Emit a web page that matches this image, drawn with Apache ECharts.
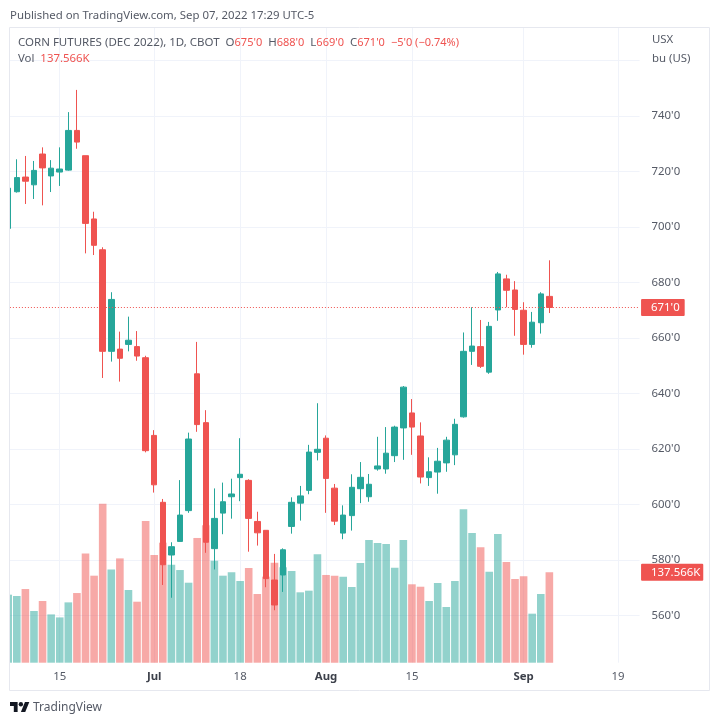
<!DOCTYPE html>
<html>
<head>
<meta charset="utf-8">
<title>CORN FUTURES (DEC 2022)</title>
<script src="https://cdn.jsdelivr.net/npm/echarts@6/dist/echarts.min.js"></script>
<style>
  html, body { margin: 0; padding: 0; background: #fff; }
  #chart { width: 720px; height: 725px; }
</style>
</head>
<body>
<div id="chart"></div>
<script>
var categories = [
  'Jun 7', 'Jun 8', 'Jun 9', 'Jun 10', 'Jun 13', 'Jun 14', 'Jun 15', 'Jun 16', 'Jun 17', 'Jun 21',
  'Jun 22', 'Jun 23', 'Jun 24', 'Jun 27', 'Jun 28', 'Jun 29', 'Jun 30', 'Jul 1', 'Jul 5', 'Jul 6',
  'Jul 7', 'Jul 8', 'Jul 11', 'Jul 12', 'Jul 13', 'Jul 14', 'Jul 15', 'Jul 18', 'Jul 19', 'Jul 20',
  'Jul 21', 'Jul 22', 'Jul 25', 'Jul 26', 'Jul 27', 'Jul 28', 'Jul 29', 'Aug 1', 'Aug 2', 'Aug 3',
  'Aug 4', 'Aug 5', 'Aug 8', 'Aug 9', 'Aug 10', 'Aug 11', 'Aug 12', 'Aug 15', 'Aug 16', 'Aug 17',
  'Aug 18', 'Aug 19', 'Aug 22', 'Aug 23', 'Aug 24', 'Aug 25', 'Aug 26', 'Aug 29', 'Aug 30', 'Aug 31',
  'Sep 1', 'Sep 2', 'Sep 6', 'Sep 7', 'Sep 8', 'Sep 9', 'Sep 12', 'Sep 13', 'Sep 14', 'Sep 15',
  'Sep 16', 'Sep 19', 'Sep 20', 'Sep 21'
];

// open, close, low, high
var candles = [
  [699.5, 714, 698, 716], [712.7, 717.8, 712.4, 724.4], [718, 716.5, 708.3, 725.6], [715.2, 720.4, 710.1, 723.8],
  [726.3, 721.3, 707.8, 728.7], [718.4, 721.2, 712.6, 724.1], [719.8, 720.9, 714.8, 728.7], [720.5, 734.8, 720.3, 741.4],
  [734.8, 730.6, 728.2, 749.4], [725.7, 701.3, 690.5, 725.7], [702.9, 693.4, 689.9, 705.5], [691.8, 655.2, 645.6, 692.7],
  [655.2, 673.9, 651.5, 676.5], [656, 652.7, 644.3, 662.3], [657.7, 659.2, 655.2, 667.7], [656.9, 653.5, 651.8, 662.5],
  [652.9, 619.4, 618.8, 653.6], [624.9, 607.1, 604.3, 626.8], [600.8, 578.3, 571, 602], [581.8, 584.8, 566.4, 586.4],
  [586.7, 596.2, 586.7, 608.8], [597.8, 623.6, 597, 625.9], [647.1, 628.8, 626.2, 658.6], [629.5, 586.4, 582.6, 634],
  [584.1, 595, 576.6, 605.8], [596.9, 601, 589.3, 607.9], [602.8, 603.8, 594.9, 609.3], [609.7, 610.9, 601.2, 623.9],
  [608.7, 595, 583, 609.1], [593.9, 589.8, 585.2, 597.4], [590.7, 573.3, 570.2, 590.7], [572.8, 563.8, 561.9, 582.2],
  [574.6, 583.7, 568.5, 584.2], [592.1, 600.8, 589.5, 602.6], [600.5, 603.1, 594.2, 606.7], [605.1, 618.9, 603.7, 621.5],
  [618.8, 619.9, 615.9, 636.5], [623.9, 609.4, 597, 624.9], [605.9, 594, 592.6, 607.4], [589.7, 596.2, 587.5, 599.7],
  [596, 606.2, 590.6, 610.9], [605.7, 609.8, 600.5, 615.3], [602.8, 607.3, 601, 611], [612.8, 613.9, 612.2, 624.4],
  [612.8, 618.5, 611.1, 627.9], [617.6, 627.9, 615.3, 628.4], [627.6, 642.3, 616.1, 642.7], [633, 627.9, 617.9, 638],
  [624.7, 609.9, 607.6, 629.6], [609.7, 611.8, 606.7, 617], [611.7, 615.6, 603.9, 620.4], [615, 623.2, 611.8, 624.4],
  [617.9, 628.9, 614.2, 630.9], [631.6, 655.2, 631.3, 662], [655.2, 657.1, 650.3, 671.1], [656.9, 649.8, 649.2, 666.5],
  [647.7, 664.2, 647.1, 665.8], [670.1, 683.1, 666.2, 683.8], [681.3, 677.2, 671.1, 682.8], [677.3, 670.3, 660.8, 680.5],
  [670, 657.7, 654, 672.9], [657.7, 665.7, 656.5, 669.4], [665.5, 675.9, 661.6, 676.5], [675, 671, 669, 688]
];

// thousands of bushels
var volumes = [
  103.5, 101.5, 112.1, 78.7, 93.9, 73.5, 68.9, 91.8, 106, 166.3,
  132.4, 242, 142, 158.7, 110.6, 92.8, 215.6, 163.9, 182.6, 149.1,
  141, 121.7, 189.8, 209, 155.2, 132.4, 137.6, 124.3, 144.1, 104.5,
  130.9, 152.2, 145.2, 139.5, 107.1, 109.6, 165, 133.5, 132.4, 130.9,
  115.2, 151.7, 186.7, 182.1, 180.6, 144.6, 186.7, 119.3, 115.6, 93.9,
  121.3, 84.8, 124.3, 233.4, 197.4, 175.6, 138.5, 195.8, 153.2, 127.4,
  131.5, 74.6, 104.5, 137.566
];

var tickDates = ['Jun 15', 'Jul 1', 'Jul 18', 'Aug 1', 'Aug 15', 'Sep 1', 'Sep 19'];
var tickNames = ['15', 'Jul', '18', 'Aug', '15', 'Sep', '19'];
var boldTicks = ['Jul', 'Aug', 'Sep'];
var priceGrid = [560, 580, 600, 620, 640, 660, 680, 700, 720, 740, 760];
var priceLabels = [560, 580, 600, 620, 640, 660, 680, 700, 720, 740];

var upColor = '#26a69a';
var downColor = '#ef5350';
var textColor = '#555a66';
var fontName = '"Noto Sans", sans-serif';

var lastPrice = 671;
var lastVolume = 137.566;

var isTick = function (index, value) {
  return tickDates.indexOf(categories[index]) >= 0;
};

var frameLine = function (x1, y1, x2, y2) {
  return {
    type: 'line', z: 101, silent: true,
    shape: {x1: x1, y1: y1, x2: x2, y2: y2},
    style: {stroke: '#e6e8ef', lineWidth: 1}
  };
};

var chart = echarts.init(document.getElementById('chart'));

var option = {
  animation: false,
  backgroundColor: '#fff',
  textStyle: {fontFamily: fontName},
  title: [
    {
      left: 10, top: 10, padding: 0,
      text: 'Published on TradingView.com, Sep 07, 2022 17:29 UTC-5',
      textStyle: {color: textColor, fontSize: 11.4, fontWeight: 'normal', fontFamily: fontName}
    },
    {
      left: 18, top: 37, padding: 0, z: 102,
      text: "CORN FUTURES (DEC 2022), 1D, CBOT  O{r|675'0}  H{r|688'0}  L{r|669'0}  C{r|671'0}  {r|\u22125'0 (\u22120.74%)}",
      textStyle: {
        color: textColor, fontSize: 11.5, fontWeight: 'normal', fontFamily: fontName,
        rich: {r: {color: downColor, fontSize: 11, fontFamily: fontName}}
      }
    },
    {
      left: 18, top: 53, padding: 0, z: 102,
      text: 'Vol  {r|137.566K}',
      textStyle: {
        color: textColor, fontSize: 11.4, fontWeight: 'normal', fontFamily: fontName,
        rich: {r: {color: downColor, fontSize: 11.4, fontFamily: fontName}}
      }
    },
    {
      left: 652, top: 34, padding: 0, z: 102,
      text: 'USX',
      textStyle: {color: textColor, fontSize: 11.4, fontWeight: 'normal', fontFamily: fontName}
    },
    {
      left: 652, top: 53, padding: 0, z: 102,
      text: 'bu (US)',
      textStyle: {color: textColor, fontSize: 11.4, fontWeight: 'normal', fontFamily: fontName}
    },
    {
      left: 33, top: 702, padding: 0,
      text: 'TradingView',
      textStyle: {color: textColor, fontSize: 12, fontWeight: 'normal', fontFamily: fontName}
    }
  ],
  grid: {left: 3.9, top: 27, width: 635.66, height: 635.7},
  xAxis: {
    type: 'category',
    data: categories,
    boundaryGap: true,
    axisLine: {show: false},
    axisTick: {show: false, alignWithLabel: true, interval: isTick},
    splitLine: {show: true, alignWithLabel: true, interval: isTick, lineStyle: {color: '#f0f3fa', width: 1}},
    axisLabel: {
      interval: isTick,
      margin: 9,
      fontSize: 11.4,
      fontFamily: fontName,
      color: textColor,
      formatter: function (value) {
        var name = tickNames[tickDates.indexOf(value)];
        return boldTicks.indexOf(name) >= 0 ? '{b|' + name + '}' : name;
      },
      rich: {b: {fontWeight: 'bold', fontSize: 11.4, color: '#3c404a', fontFamily: fontName}}
    }
  },
  yAxis: [
    {
      type: 'value',
      position: 'right',
      min: 543,
      max: 772.07,
      axisLine: {show: false},
      axisTick: {show: false, customValues: priceGrid},
      splitLine: {show: true, lineStyle: {color: '#f0f3fa', width: 1}},
      axisLabel: {
        customValues: priceLabels,
        margin: 12,
        fontSize: 11.4,
        fontFamily: fontName,
        color: textColor,
        formatter: function (value) { return value + "'0"; }
      }
    },
    {
      type: 'value',
      min: 0,
      max: 967.3,
      show: false,
      splitLine: {show: false}
    }
  ],
  series: [
    {
      name: 'Vol',
      type: 'bar',
      yAxisIndex: 1,
      barWidth: 7.6,
      z: 1,
      data: volumes.map(function (v, i) {
        var c = candles[i];
        return {value: v, itemStyle: {color: c[1] >= c[0] ? upColor : downColor, opacity: 0.5}};
      }),
      markLine: {
        silent: true,
        symbol: 'none',
        lineStyle: {color: 'rgba(0,0,0,0)'},
        label: {
          show: true,
          position: 'end',
          distance: 1.5,
          formatter: lastVolume + 'K',
          color: '#fff',
          backgroundColor: downColor,
          borderRadius: 1,
          padding: [3, 3, 3, 10],
          fontSize: 11.4,
          fontFamily: fontName
        },
        data: [{yAxis: lastVolume}]
      }
    },
    {
      name: 'CORN FUTURES (DEC 2022)',
      type: 'candlestick',
      z: 2,
      barWidth: 6,
      itemStyle: {
        color: upColor,
        color0: downColor,
        borderColor: upColor,
        borderColor0: downColor,
        borderWidth: 1
      },
      data: candles,
      markLine: {
        silent: true,
        symbol: 'none',
        lineStyle: {color: downColor, type: [1, 2], width: 1, opacity: 1},
        label: {
          show: true,
          position: 'end',
          distance: 1.5,
          formatter: lastPrice + "'0",
          color: '#fff',
          backgroundColor: downColor,
          borderRadius: 1,
          padding: [3, 5, 3, 10],
          fontSize: 11.4,
          fontFamily: fontName
        },
        data: [{yAxis: lastPrice}]
      }
    }
  ],
  graphic: [
    {type: 'rect', z: 100, silent: true, shape: {x: 0, y: 20, width: 10, height: 680}, style: {fill: '#fff'}},
    frameLine(9.5, 27.5, 709.5, 27.5),
    frameLine(9.5, 27.5, 9.5, 690.5),
    frameLine(709.5, 27.5, 709.5, 690.5),
    frameLine(9.5, 690.5, 709.5, 690.5),
    {
      type: 'group', z: 101, silent: true,
      x: 10, y: 699.8, scaleX: 0.544, scaleY: 0.556,
      children: [
        {type: 'polygon', z: 101, shape: {points: [[0, 4], [14, 4], [14, 22], [7, 22], [7, 11], [0, 11]]}, style: {fill: '#131722'}},
        {type: 'polygon', z: 101, shape: {points: [[20, 22], [27.5, 4], [35.5, 4], [28, 22]]}, style: {fill: '#131722'}},
        {type: 'circle', z: 101, shape: {cx: 20, cy: 8, r: 4}, style: {fill: '#131722'}}
      ]
    }
  ]
};

chart.setOption(option);
</script>
</body>
</html>
